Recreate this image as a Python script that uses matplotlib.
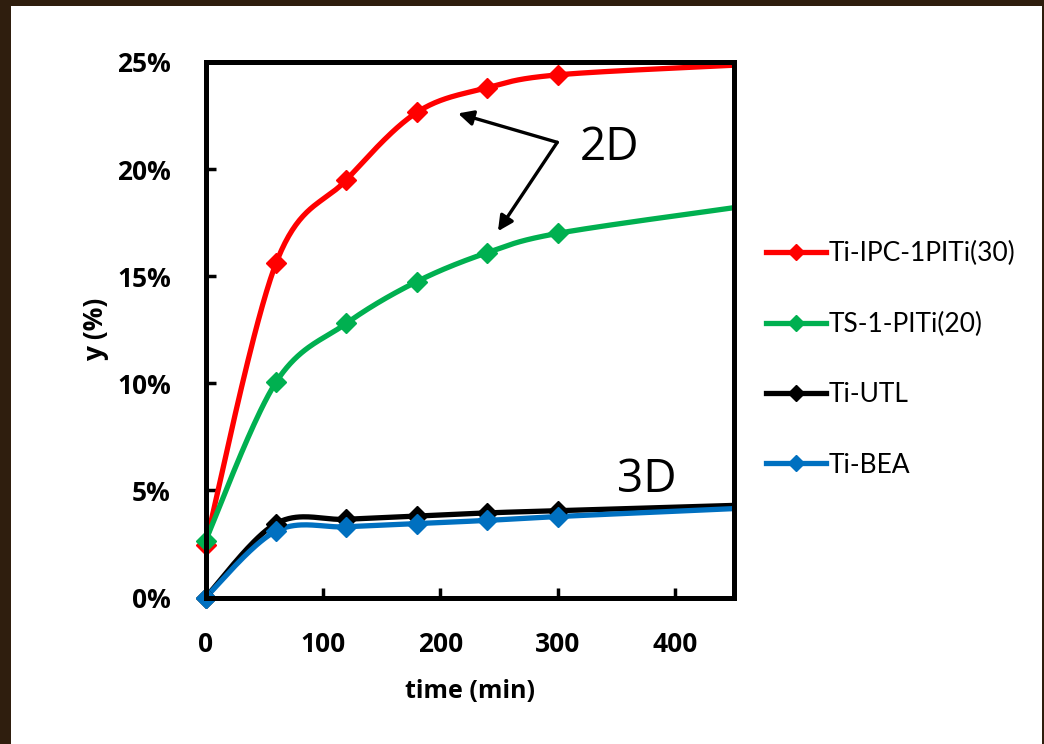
import numpy as np
import matplotlib
matplotlib.use("Agg")
import matplotlib.pyplot as plt
from matplotlib.patches import Rectangle
from matplotlib.ticker import PercentFormatter

# reaction time (min)
time_min = [0, 60, 120, 180, 240, 300, 450]

# yield (%) for each catalyst
ipc_1piti = [2.45, 15.6, 19.5, 22.65, 23.8, 24.4, 24.85]
ts1_piti = [2.65, 10.05, 12.8, 14.75, 16.1, 17.0, 18.2]
ti_utl = [0.0, 3.45, 3.65, 3.8, 3.95, 4.05, 4.3]
ti_bea = [0.0, 3.1, 3.3, 3.45, 3.6, 3.78, 4.15]

series_labels = ["Ti-IPC-1PITi(30)", "TS-1-PITi(20)", "Ti-UTL", "Ti-BEA"]
series_colors = ["#ff0000", "#00b050", "#000000", "#0070c0"]

x_ticks = [0, 100, 200, 300, 400]
y_ticks = [0, 5, 10, 15, 20, 25]


def smooth(x, y, n=40):
    """Cardinal (Catmull-Rom) Bezier smoothing through every data point."""
    p = np.column_stack([x, y]).astype(float)
    pts = [p[0]]
    for i in range(len(p) - 1):
        p0 = p[i - 1] if i > 0 else p[i]
        p1, p2 = p[i], p[i + 1]
        p3 = p[i + 2] if i + 2 < len(p) else p[i + 1]
        c1 = p1 + (p2 - p0) / 6.0
        c2 = p2 - (p3 - p1) / 6.0
        t = np.linspace(0, 1, n)[1:, None]
        seg = ((1 - t) ** 3) * p1 + 3 * ((1 - t) ** 2) * t * c1 \
            + 3 * (1 - t) * t ** 2 * c2 + t ** 3 * p2
        pts.extend(seg)
    pts = np.array(pts)
    return pts[:, 0], pts[:, 1]


fig = plt.figure(figsize=(10.44, 7.44), dpi=100)
fig.patch.set_facecolor("white")

# dark frame along the top, left and right edges
frame_color = "#2f1e0e"
fig.add_artist(Rectangle((0, 1 - 6 / 744), 1, 6 / 744, transform=fig.transFigure,
                         facecolor=frame_color, edgecolor="none", zorder=10))
fig.add_artist(Rectangle((0, 0), 11 / 1044, 1, transform=fig.transFigure,
                         facecolor=frame_color, edgecolor="none", zorder=10))
fig.add_artist(Rectangle((1 - 2 / 1044, 0), 2 / 1044, 1, transform=fig.transFigure,
                         facecolor=frame_color, edgecolor="none", zorder=10))

ax = fig.add_axes([205.5 / 1044, 1 - 597.5 / 744, 528.5 / 1044, 535.5 / 744])

all_series = [ipc_1piti, ts1_piti, ti_utl, ti_bea]
handles = []
for vals, label, color in zip(all_series, series_labels, series_colors):
    sx, sy = smooth(time_min, vals)
    ax.plot(sx, sy, color=color, lw=3.8, solid_capstyle="butt", zorder=3, clip_on=False)
    ax.plot(time_min[:-1], vals[:-1], ls="none", marker="D", ms=10,
            color=color, mec=color, zorder=4, clip_on=False)
    h, = ax.plot([], [], color=color, lw=3.8, marker="D", ms=8, label=label)
    handles.append(h)

ax.set_xlim(0, 450)
ax.set_ylim(0, 25)
ax.set_xticks(x_ticks)
ax.set_yticks(y_ticks)
ax.yaxis.set_major_formatter(PercentFormatter(xmax=100, decimals=0))

for sp in ax.spines.values():
    sp.set_linewidth(3.6)
    sp.set_color("black")
    sp.set_zorder(5)

ax.tick_params(direction="in", length=7, width=2.5, colors="black",
               labelsize=19, top=False, right=False)
for lbl in ax.get_xticklabels() + ax.get_yticklabels():
    lbl.set_fontfamily("Open Sans")
    lbl.set_fontweight("bold")
ax.tick_params(axis="x", pad=24)
ax.tick_params(axis="y", pad=25)

ax.set_xlabel("time (min)", fontsize=18, fontweight="bold", family="Open Sans", labelpad=15)
ax.set_ylabel("y (%)", fontsize=19, fontweight="bold", family="Open Sans", labelpad=6)

# dimensionality annotations
arrow_kw = dict(arrowstyle="-|>,head_length=0.9,head_width=0.45", color="black",
                lw=2.4, shrinkA=0, shrinkB=0)
ax.annotate("", xy=(215, 22.6), xytext=(299.5, 21.25), arrowprops=arrow_kw, zorder=6)
ax.annotate("", xy=(249, 17.1), xytext=(299.5, 21.25), arrowprops=arrow_kw, zorder=6)
ax.text(344, 21.0, "2D", fontsize=33, family="Open Sans", ha="center", va="center", zorder=6)
ax.text(376, 5.5, "3D", fontsize=33, family="Open Sans", ha="center", va="center", zorder=6)

ax.legend(handles=handles, loc="upper left", bbox_to_anchor=(1.04, 0.685),
          frameon=False, handlelength=2.3, handletextpad=0.1, labelspacing=1.72,
          prop={"family": "Lato", "size": 19}, borderaxespad=0)

fig.savefig("out.png", dpi=100)
